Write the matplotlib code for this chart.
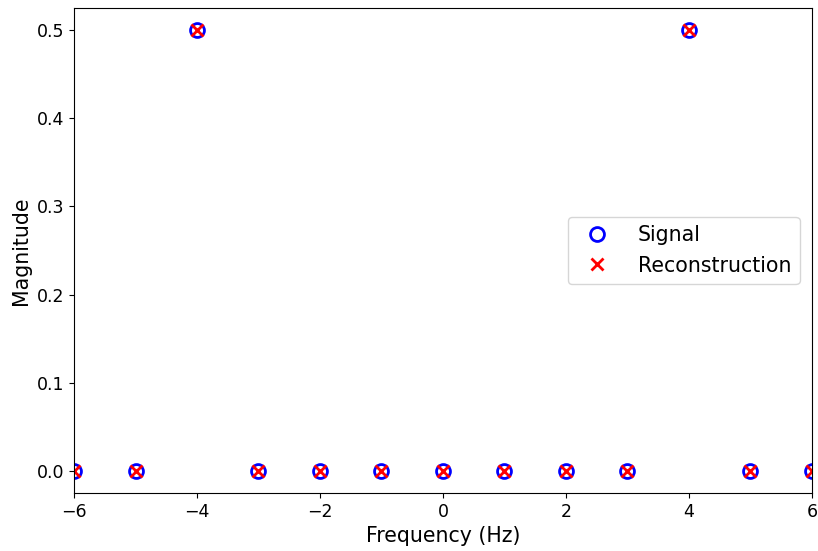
import numpy as np
import matplotlib
matplotlib.use("Agg")
import matplotlib.pyplot as plt

freqs = [-6, -5, -4, -3, -2, -1, 0, 1, 2, 3, 4, 5, 6]
signal_mag = [0, 0, 0.5, 0, 0, 0, 0, 0, 0, 0, 0.5, 0, 0]
recon_mag = [0, 0, 0.5, 0, 0, 0, 0, 0, 0, 0, 0.5, 0, 0]

fig = plt.figure(figsize=(8.18, 5.51), dpi=100)
ax = fig.add_axes([0.0905, 0.1053, 0.902, 0.880])
ax.plot(freqs, signal_mag, 'o', mfc='none', mec='blue', ms=10, mew=2, label='Signal')
ax.plot(freqs, recon_mag, 'x', color='red', ms=8, mew=2, label='Reconstruction')
ax.set_xlim(-6, 6)
ax.set_xlabel('Frequency (Hz)', fontsize=14.8)
ax.set_ylabel('Magnitude', fontsize=14.8)
ax.tick_params(labelsize=12.5)
ax.legend(loc='center right', fontsize=14.8, handletextpad=1.0, borderaxespad=0.6)
fig.savefig('out.png', dpi=100)
